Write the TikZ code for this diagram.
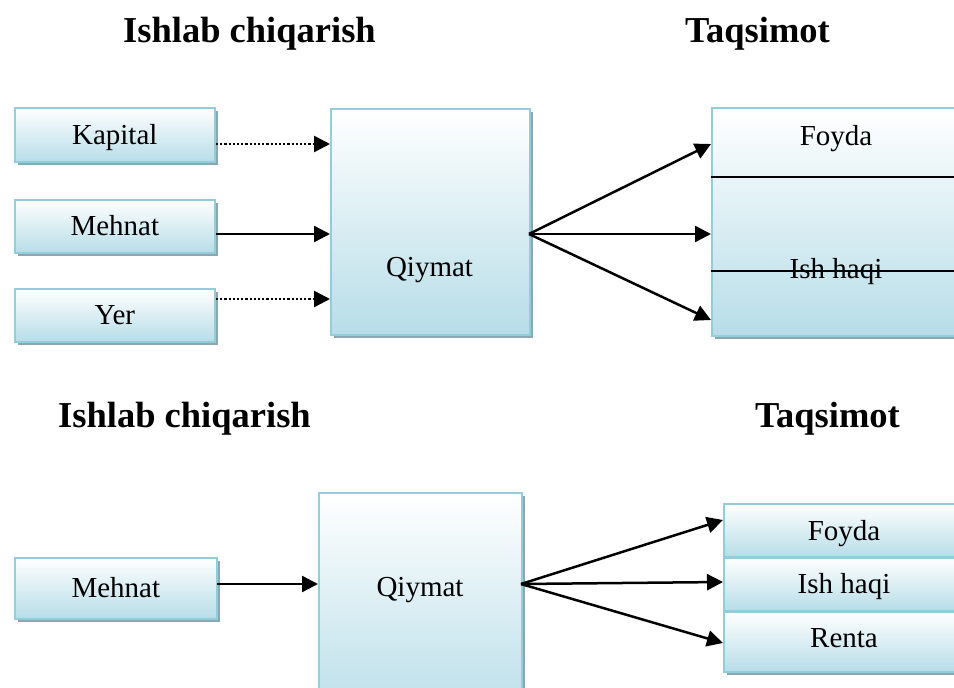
\documentclass[tikz,border=0pt]{standalone}
\usepackage{fontspec}
\setmainfont{Liberation Serif}
\usetikzlibrary{arrows.meta,shadows}
\definecolor{bordc}{HTML}{92CDDC}
\definecolor{fillc}{HTML}{B7DDE8}
\definecolor{shadc}{HTML}{8DA7B0}
\tikzset{
  box/.style={draw=bordc, line width=1.6pt, top color=white, bottom color=fillc,
    drop shadow={shadow xshift=3.5pt,shadow yshift=-3.5pt,fill=shadc,opacity=1},
    anchor=north west, inner sep=0pt, font=\fontsize{29}{34}\selectfont,
    text height=19pt, text depth=0pt},
  lbl/.style={anchor=base, inner sep=0pt, font=\fontsize{29}{34}\selectfont},
  ttl/.style={anchor=base, inner sep=0pt, font=\fontsize{36.5}{44}\selectfont\bfseries},
  arr/.style={-{Triangle[length=16pt,width=16pt]}, line width=2.5pt},
  dotarr/.style={arr, dash pattern=on 2.2pt off 2pt},
  divline/.style={line width=1.4pt, black}
}
\begin{document}
\begin{tikzpicture}[x=1pt,y=-1pt]
\useasboundingbox (0,0) rectangle (954,688);
% titles
\node[ttl] (t1) at (249.5,42) {Ishlab chiqarish};
\node[ttl] (t2) at (757.5,42) {Taqsimot};
\node[ttl] (t3) at (184.5,427) {Ishlab chiqarish};
\node[ttl] (t4) at (827.5,427) {Taqsimot};
% top diagram
\node[box, minimum width=200pt, minimum height=54pt] (kap) at (14,107) {Kapital};
\node[box, minimum width=200pt, minimum height=53pt] (meh) at (14,199) {Mehnat};
\node[box, minimum width=200pt, minimum height=53pt] (yer) at (14,288) {Yer};
\node[box, minimum width=199pt, minimum height=226pt] (qiy) at (330,108) {};
\node[lbl] (qiyt) at (429.5,276) {Qiymat};
\node[box, minimum width=252pt, minimum height=228pt] (rt) at (711,107) {};
\draw[divline] (711,177) -- (963,177);
\draw[divline] (711,271) -- (963,271);
\node[lbl] (foy) at (836,145) {Foyda};
\node[lbl] (ish) at (836,278) {Ish haqi};
\coordinate (ka) at (216,144);
\coordinate (kb) at (330,144);
\coordinate (ma) at (216,234);
\coordinate (mb) at (330,234);
\coordinate (ya) at (216,299);
\coordinate (yb) at (330,299);
\draw[dotarr] (ka) -- (kb);
\draw[arr] (ma) -- (mb);
\draw[dotarr] (ya) -- (yb);
\coordinate (qo) at (529,234);
\coordinate (r1) at (711,144);
\coordinate (r2) at (711,234);
\coordinate (r3) at (711,320);
\draw[arr] (qo) -- (r1);
\draw[arr] (qo) -- (r2);
\draw[arr] (qo) -- (r3);
% bottom diagram
\node[box, minimum width=202pt, minimum height=61pt] (meh2) at (14,557) {Mehnat};
\node[box, minimum width=203pt, minimum height=230pt] (qiy2) at (318,492) {};
\node[lbl] (qiy2t) at (420,596) {Qiymat};
\node[box, minimum width=245pt, minimum height=53pt] (foy2) at (723,503) {};
\node[box, minimum width=245pt, minimum height=53pt] (ish2) at (723,557) {};
\node[box, minimum width=245pt, minimum height=60pt] (ren2) at (723,611) {};
\node[lbl] (foy2t) at (844,540) {Foyda};
\node[lbl] (ish2t) at (844,593) {Ish haqi};
\node[lbl] (ren2t) at (844,647) {Renta};
\coordinate (m2a) at (217,584);
\coordinate (m2b) at (318,584);
\draw[arr] (m2a) -- (m2b);
\coordinate (q2o) at (521,584);
\coordinate (s1) at (723,520);
\coordinate (s2) at (723,582);
\coordinate (s3) at (723,643);
\draw[arr] (q2o) -- (s1);
\draw[arr] (q2o) -- (s2);
\draw[arr] (q2o) -- (s3);
\end{tikzpicture}
\end{document}
